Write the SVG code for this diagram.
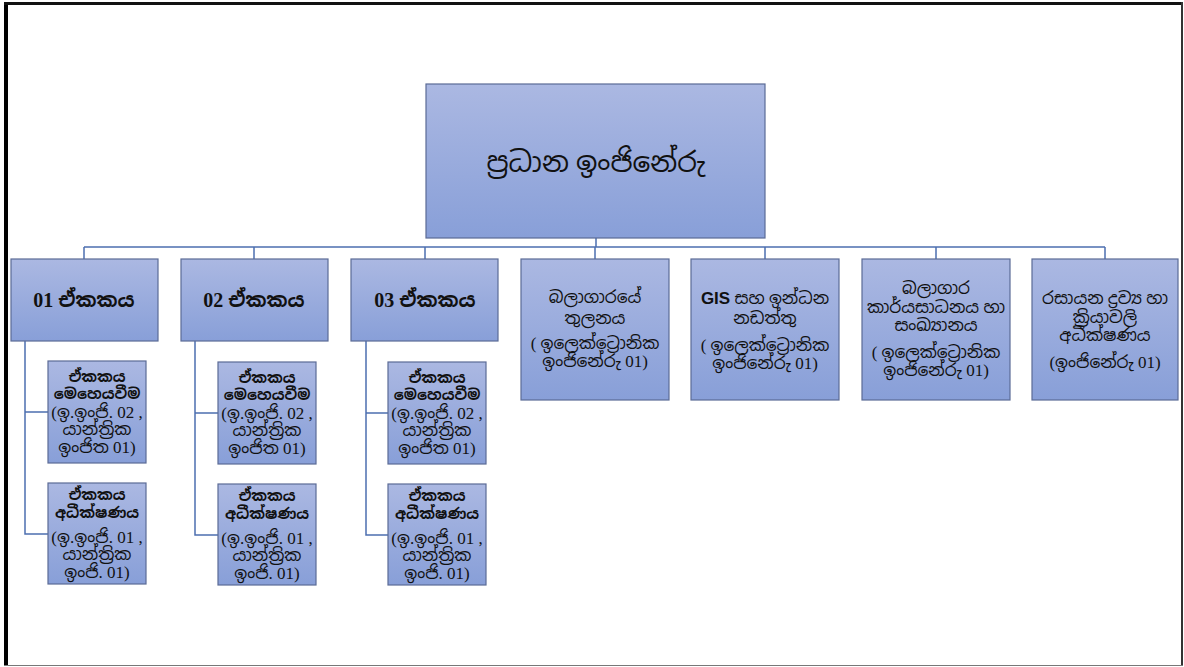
<svg xmlns="http://www.w3.org/2000/svg" width="1184" height="667" viewBox="0 0 1184 667">
<defs>
<linearGradient id="g" x1="0" y1="0" x2="0" y2="1">
<stop offset="0" stop-color="#abb8e2"/>
<stop offset="1" stop-color="#889fd8"/>
</linearGradient>
<style>
.box{fill:url(#g);stroke:#5b6b96;stroke-width:1.2}
.c{fill:none;stroke:#4c6fb0;stroke-width:1.5}
text{font-family:"Liberation Serif","Noto Sans Sinhala","Iskoola Pota",serif;fill:#111;text-anchor:middle;dominant-baseline:central}
.t0{font-size:28px}
.t1{font-size:20px;font-weight:bold}
.t2{font-size:17px}
.t3{font-size:17px}
.b{font-size:15px;font-weight:bold}
.sans{font-family:"Liberation Sans",sans-serif;font-weight:bold}
</style>
</defs>
<rect x="0" y="0" width="1184" height="667" fill="#fff"/>
<g id="frame">
<rect x="4" y="2" width="4" height="664" fill="#000"/>
<rect x="4" y="2" width="1179" height="3" fill="#111"/>
<rect x="1181" y="2" width="2" height="664" fill="#333"/>
<rect x="4" y="665" width="1179" height="1" fill="#777"/>
</g>
<g id="connectors">
<path class="c" d="M596 238V247M84 247H1105M84 247V259M254 247V259M425 247V259M595 247V259M765 247V259M936 247V259M1105 247V259"/>
<path class="c" d="M25 341V534H48M25 412H48"/>
<path class="c" d="M195 341V535H218M195 413H218"/>
<path class="c" d="M366 341V535H388M366 413H388"/>
</g>
<g id="main">
<rect class="box" x="426" y="84" width="339" height="154"/>
<text class="t0" x="596" y="162">ප්‍රධාන ඉංජිනේරු</text>
</g>
<g id="unit1">
<rect class="box" x="11" y="259" width="147" height="82"/>
<text class="t1" x="84" y="300">01 ඒකකය</text>
</g>
<g id="unit2">
<rect class="box" x="181" y="259" width="147" height="82"/>
<text class="t1" x="254" y="300">02 ඒකකය</text>
</g>
<g id="unit3">
<rect class="box" x="351" y="259" width="147" height="82"/>
<text class="t1" x="425" y="300">03 ඒකකය</text>
</g>
<g id="balancing">
<rect class="box" x="521" y="259" width="148" height="141"/>
<text class="t2" x="595" y="297">බලාගාරයේ</text>
<text class="t2" x="595" y="318">තුලනය</text>
<text class="t2" x="595" y="343">( ඉලෙක්ට්‍රොනික</text>
<text class="t2" x="595" y="361">ඉංජිනේරු 01)</text>
</g>
<g id="gis">
<rect class="box" x="691" y="259" width="148" height="141"/>
<text class="t2" x="765" y="298"><tspan class="sans">GIS</tspan> සහ ඉන්ධන</text>
<text class="t2" x="765" y="318">නඩත්තු</text>
<text class="t2" x="765" y="345">( ඉලෙක්ට්‍රොනික</text>
<text class="t2" x="765" y="363">ඉංජිනේරු 01)</text>
</g>
<g id="performance">
<rect class="box" x="862" y="259" width="148" height="141"/>
<text class="t2" x="936" y="288">බලාගාර</text>
<text class="t2" x="936" y="307">කාර්යසාධනය හා</text>
<text class="t2" x="936" y="325">සංඛ්‍යානය</text>
<text class="t2" x="936" y="352">( ඉලෙක්ට්‍රොනික</text>
<text class="t2" x="936" y="370">ඉංජිනේරු 01)</text>
</g>
<g id="chemical">
<rect class="box" x="1032" y="259" width="146" height="141"/>
<text class="t2" x="1105" y="298">රසායන ද්‍රව්‍ය හා</text>
<text class="t2" x="1105" y="317">ක්‍රියාවලි</text>
<text class="t2" x="1105" y="335">අධීක්ෂණය</text>
<text class="t2" x="1105" y="362">(ඉංජිනේරු 01)</text>
</g>
<g id="u1op">
<rect class="box" x="48" y="361" width="98" height="102"/>
<text class="b" x="97" y="377">ඒකකය</text>
<text class="b" x="97" y="394">මෙහෙයවීම</text>
<text class="t3" x="97" y="412">(ඉ.ඉංජි. 02 ,</text>
<text class="t3" x="97" y="429">යාන්ත්‍රික</text>
<text class="t3" x="97" y="447">ඉංජිත 01)</text>
</g>
<g id="u1sup">
<rect class="box" x="48" y="483" width="98" height="101"/>
<text class="b" x="97" y="495">ඒකකය</text>
<text class="b" x="97" y="513">අධීක්ෂණය</text>
<text class="t3" x="97" y="537">(ඉ.ඉංජි. 01 ,</text>
<text class="t3" x="97" y="554">යාන්ත්‍රික</text>
<text class="t3" x="97" y="572">ඉංජි. 01)</text>
</g>
<g id="u2op">
<rect class="box" x="218" y="362" width="98" height="102"/>
<text class="b" x="267" y="378">ඒකකය</text>
<text class="b" x="267" y="395">මෙහෙයවීම</text>
<text class="t3" x="267" y="413">(ඉ.ඉංජි. 02 ,</text>
<text class="t3" x="267" y="430">යාන්ත්‍රික</text>
<text class="t3" x="267" y="448">ඉංජිත 01)</text>
</g>
<g id="u2sup">
<rect class="box" x="218" y="484" width="98" height="101"/>
<text class="b" x="267" y="496">ඒකකය</text>
<text class="b" x="267" y="514">අධීක්ෂණය</text>
<text class="t3" x="267" y="538">(ඉ.ඉංජි. 01 ,</text>
<text class="t3" x="267" y="555">යාන්ත්‍රික</text>
<text class="t3" x="267" y="573">ඉංජි. 01)</text>
</g>
<g id="u3op">
<rect class="box" x="388" y="362" width="98" height="102"/>
<text class="b" x="437" y="378">ඒකකය</text>
<text class="b" x="437" y="395">මෙහෙයවීම</text>
<text class="t3" x="437" y="413">(ඉ.ඉංජි. 02 ,</text>
<text class="t3" x="437" y="430">යාන්ත්‍රික</text>
<text class="t3" x="437" y="448">ඉංජිත 01)</text>
</g>
<g id="u3sup">
<rect class="box" x="388" y="484" width="98" height="101"/>
<text class="b" x="437" y="496">ඒකකය</text>
<text class="b" x="437" y="514">අධීක්ෂණය</text>
<text class="t3" x="437" y="538">(ඉ.ඉංජි. 01 ,</text>
<text class="t3" x="437" y="555">යාන්ත්‍රික</text>
<text class="t3" x="437" y="573">ඉංජි. 01)</text>
</g>
</svg>
